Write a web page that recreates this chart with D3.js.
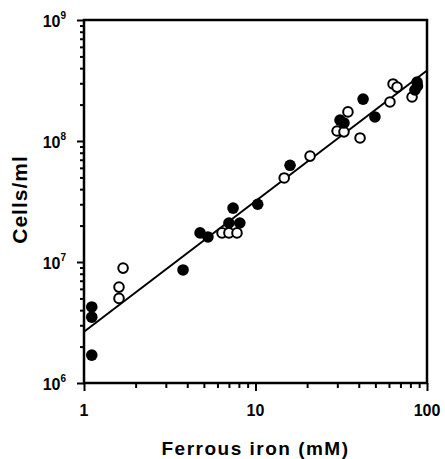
<!DOCTYPE html>
<html>
<head>
<meta charset="utf-8">
<script src="https://cdn.jsdelivr.net/npm/d3@7"></script>
<style>
  body { margin: 0; background: #fff; }
  svg { font-family: "Liberation Sans", Arial, Helvetica, sans-serif; font-weight: bold; }
</style>
</head>
<body>
<script>
// ferrous iron (mM) and cell density (cells/ml)
const filledIron = [1.11, 1.11, 1.11, 3.78, 4.75, 5.28, 7.0, 8.1, 7.4, 10.3, 15.9, 42.4, 49.7, 31.1, 32.8, 87.5, 88, 85];
const filledCells = [4.25e6, 3.5e6, 1.7e6, 8.6e6, 1.74e7, 1.61e7, 2.1e7, 2.1e7, 2.79e7, 3.0e7, 6.3e7, 2.22e8, 1.58e8, 1.49e8, 1.41e8, 3.07e8, 2.85e8, 2.64e8];

const openIron = [1.69, 1.6, 1.6, 6.38, 7.0, 7.8, 14.7, 20.8, 29.9, 32.8, 34.6, 40.7, 60.8, 63.4, 66.9, 81.8];
const openCells = [8.9e6, 6.2e6, 5.0e6, 1.74e7, 1.74e7, 1.74e7, 4.95e7, 7.5e7, 1.21e8, 1.19e8, 1.74e8, 1.06e8, 2.1e8, 2.96e8, 2.79e8, 2.31e8];

// fitted line: cells = fitA * iron ^ fitB
const fitA = 2.65e6;
const fitB = 1.08;

const xMajor = [1, 10, 100];
const xLabels = ['1', '10', '100'];
const yMajor = [1e6, 1e7, 1e8, 1e9];
const yExponents = ['6', '7', '8', '9'];

let width = 445;
let height = 459;
let margin = { top: 20, right: 18, bottom: 76, left: 84 };

let svg = d3.select('body')
  .append('svg')
  .attr('width', width)
  .attr('height', height);

let x = d3.scaleLog()
  .domain([1, 100])
  .range([margin.left, width - margin.right]);

let y = d3.scaleLog()
  .domain([1e6, 1e9])
  .range([height - margin.bottom, margin.top]);

// minor ticks at 2..9 of each decade
const minorOf = (lo, hi) => {
  let out = [];
  for (let d = lo; d < hi; d *= 10) {
    for (let m = 2; m <= 9; m++) out.push(d * m);
  }
  return out;
};

let plotBottom = height - margin.bottom;

// minor ticks
svg.append('g')
  .attr('transform', `translate(0, ${plotBottom})`)
  .call(d3.axisBottom(x).tickValues(minorOf(1, 100)).tickSize(5).tickFormat(''))
  .call(g => g.select('.domain').remove());
svg.append('g')
  .attr('transform', `translate(${margin.left}, 0)`)
  .call(d3.axisLeft(y).tickValues(minorOf(1e6, 1e9)).tickSize(4).tickFormat(''))
  .call(g => g.select('.domain').remove());

// major ticks
svg.append('g')
  .attr('transform', `translate(0, ${plotBottom})`)
  .call(d3.axisBottom(x).tickValues(xMajor).tickSize(8).tickFormat(''))
  .call(g => g.select('.domain').remove());
svg.append('g')
  .attr('transform', `translate(${margin.left}, 0)`)
  .call(d3.axisLeft(y).tickValues(yMajor).tickSize(7).tickFormat(''))
  .call(g => g.select('.domain').remove());

svg.selectAll('.tick line')
  .attr('stroke', '#000')
  .attr('stroke-width', 2);

// frame
svg.append('rect')
  .attr('x', margin.left)
  .attr('y', margin.top)
  .attr('width', width - margin.left - margin.right)
  .attr('height', plotBottom - margin.top)
  .attr('fill', 'none')
  .attr('stroke', '#000')
  .attr('stroke-width', 2.5);

// tick labels
svg.selectAll('.xlab')
  .data(xMajor)
  .enter()
  .append('text')
  .attr('class', 'xlab')
  .attr('x', d => x(d))
  .attr('y', plotBottom + 33)
  .attr('text-anchor', 'middle')
  .attr('font-size', 16)
  .text((d, i) => xLabels[i]);

let ylab = svg.selectAll('.ylab')
  .data(yMajor)
  .enter()
  .append('text')
  .attr('class', 'ylab')
  .attr('x', margin.left - 18)
  .attr('y', d => y(d) + 7)
  .attr('text-anchor', 'end')
  .attr('font-size', 16);
ylab.append('tspan').text('10');
ylab.append('tspan')
  .attr('font-size', 10)
  .attr('dy', -8)
  .text((d, i) => yExponents[i]);

// axis titles
svg.append('text')
  .attr('x', (margin.left + width - margin.right) / 2)
  .attr('y', 455)
  .attr('text-anchor', 'middle')
  .attr('font-size', 19)
  .attr('letter-spacing', 1.5)
  .text('Ferrous iron (mM)');

svg.append('text')
  .attr('transform', `translate(27, ${(margin.top + plotBottom) / 2 - 2}) rotate(-90)`)
  .attr('text-anchor', 'middle')
  .attr('font-size', 21)
  .attr('letter-spacing', 1)
  .text('Cells/ml');

// fitted line
let line = d3.line()
  .x(d => x(d))
  .y(d => y(fitA * Math.pow(d, fitB)));

svg.append('path')
  .datum(x.domain())
  .attr('d', line)
  .attr('fill', 'none')
  .attr('stroke', '#000')
  .attr('stroke-width', 2);

// points
svg.selectAll('.open')
  .data(openIron)
  .enter()
  .append('circle')
  .attr('class', 'open')
  .attr('cx', d => x(d))
  .attr('cy', (d, i) => y(openCells[i]))
  .attr('r', 4.8)
  .attr('fill', '#fff')
  .attr('stroke', '#000')
  .attr('stroke-width', 2);

svg.selectAll('.filled')
  .data(filledIron)
  .enter()
  .append('circle')
  .attr('class', 'filled')
  .attr('cx', d => x(d))
  .attr('cy', (d, i) => y(filledCells[i]))
  .attr('r', 5.8)
  .attr('fill', '#000');
</script>
</body>
</html>
